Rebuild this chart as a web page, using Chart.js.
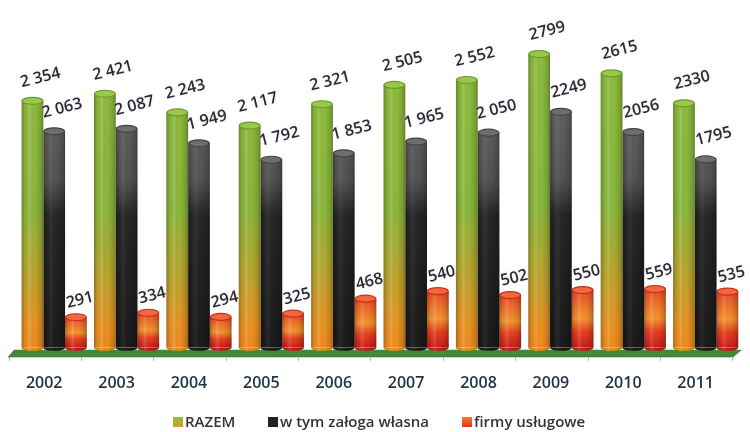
<!DOCTYPE html>
<html><head><meta charset="utf-8">
<script src="https://cdn.jsdelivr.net/npm/chart.js@4.4.1/dist/chart.umd.min.js"></script>
<style>html,body{margin:0;padding:0;background:#fff;}#wrap{width:750px;height:432px;position:relative;}</style>
</head><body><div id="wrap"><canvas id="c" width="750" height="432"></canvas></div>
<script>
const years = ['2002','2003','2004','2005','2006','2007','2008','2009','2010','2011'];
const razem = [2354, 2421, 2243, 2117, 2321, 2505, 2552, 2799, 2615, 2330];
const zaloga = [2063, 2087, 1949, 1792, 1853, 1965, 2050, 2249, 2056, 1795];
const firmy = [291, 334, 294, 325, 468, 540, 502, 550, 559, 535];
const seriesNames = ['RAZEM', 'w tym załoga własna', 'firmy usługowe'];
const groupedThousands = [true, true, true, true, true, true, true, false, false, false];

const FONT = "'Open Sans', 'Liberation Sans', sans-serif";

function greenFill(c) {
  const ch = c.chart, a = ch.chartArea;
  if (!a) return '#8cb83c';
  const g = ch.ctx.createLinearGradient(0, a.top, 0, a.bottom);
  g.addColorStop(0, '#8fbe3e'); g.addColorStop(0.56, '#8bb83b');
  g.addColorStop(0.78, '#bea52d'); g.addColorStop(0.93, '#eb9321'); g.addColorStop(1, '#f08a1e');
  return g;
}
function blackFill(c) {
  const ch = c.chart, a = ch.chartArea;
  if (!a) return '#333';
  const g = ch.ctx.createLinearGradient(0, a.top, 0, a.bottom);
  g.addColorStop(0, '#6a6a6a'); g.addColorStop(0.22, '#626262'); g.addColorStop(0.47, '#525252');
  g.addColorStop(0.58, '#262626'); g.addColorStop(1, '#1a1a1a');
  return g;
}
function redFill(c) {
  const ch = c.chart;
  if (!ch.chartArea || c.type !== 'data') return '#f06a2a';
  const ys = ch.scales.y;
  const top = ys.getPixelForValue(c.parsed.y), bot = ys.getPixelForValue(0);
  const g = ch.ctx.createLinearGradient(0, top, 0, bot);
  g.addColorStop(0, '#ea4a2c'); g.addColorStop(0.3, '#f27a2a'); g.addColorStop(0.5, '#f5952f');
  g.addColorStop(0.72, '#e8401f'); g.addColorStop(1, '#cc1c18');
  return g;
}

const caps = [
  {fill: '#98c948', rim: '#6b9a2c', bottom: '#ef8b1f', hi: 0.14},
  {fill: '#6e6e6e', rim: '#444444', bottom: '#1a1a1a', hi: 0.06},
  {fill: '#f2683e', rim: '#c8301c', bottom: '#c41a18', hi: 0.14}
];

function fmt(v, i) {
  if (v >= 1000 && groupedThousands[i]) return Math.floor(v / 1000) + ' ' + String(v % 1000).padStart(3, '0');
  return String(v);
}

const floorPlugin = {
  id: 'floor',
  beforeDatasetsDraw(chart) {
    const a = chart.chartArea, ctx = chart.ctx;
    const yTop = a.bottom + 2, yBot = a.bottom + 9;
    ctx.save();
    ctx.beginPath();
    ctx.moveTo(a.left - 4, yTop); ctx.lineTo(a.right, yTop);
    ctx.lineTo(a.right - 8, yBot); ctx.lineTo(a.left - 10, yBot); ctx.closePath();
    ctx.fillStyle = '#3f8b33'; ctx.fill();
    ctx.strokeStyle = '#2f7028'; ctx.lineWidth = 1;
    ctx.beginPath(); ctx.moveTo(a.left - 10, yBot); ctx.lineTo(a.right - 8, yBot); ctx.stroke();
    const n = chart.data.labels.length, w = a.width / n;
    ctx.strokeStyle = '#8fb2d6';
    for (let i = 0; i <= n; i++) {
      const x = Math.round(a.left - 9.5 + i * w) + 0.5;
      ctx.beginPath(); ctx.moveTo(x, yBot + 1); ctx.lineTo(x, yBot + 4); ctx.stroke();
    }
    ctx.restore();
  }
};

const cylinderPlugin = {
  id: 'cylinder',
  afterDatasetDraw(chart, args) {
    const ctx = chart.ctx, cap = caps[args.index];
    ctx.save();
    args.meta.data.forEach(el => {
      const p = el.getProps(['x', 'y', 'base', 'width'], true);
      const l = p.x - p.width / 2, rx = p.width / 2;
      ctx.beginPath(); ctx.ellipse(p.x, p.base, rx, 3, 0, 0, Math.PI);
      ctx.fillStyle = cap.bottom; ctx.fill();
      const g = ctx.createLinearGradient(l, 0, l + p.width, 0);
      g.addColorStop(0, 'rgba(0,0,0,0.28)'); g.addColorStop(0.15, 'rgba(0,0,0,0.06)');
      g.addColorStop(0.35, 'rgba(255,255,255,' + cap.hi + ')'); g.addColorStop(0.6, 'rgba(0,0,0,0)');
      g.addColorStop(0.88, 'rgba(0,0,0,0.14)'); g.addColorStop(1, 'rgba(0,0,0,0.32)');
      ctx.fillStyle = g;
      ctx.beginPath(); ctx.rect(l, p.y, p.width, p.base - p.y);
      ctx.ellipse(p.x, p.base, rx, 3, 0, 0, Math.PI);
      ctx.fill();
      ctx.beginPath(); ctx.ellipse(p.x, p.y, rx - 0.5, 3.5, 0, 0, Math.PI * 2);
      ctx.fillStyle = cap.fill; ctx.fill();
      ctx.strokeStyle = cap.rim; ctx.lineWidth = 1.2; ctx.stroke();
    });
    ctx.restore();
  }
};

const labelPlugin = {
  id: 'valueLabels',
  afterDatasetsDraw(chart) {
    const ctx = chart.ctx;
    ctx.save();
    ctx.font = '600 16px ' + FONT;
    ctx.fillStyle = '#1d2c3d';
    ctx.textAlign = 'center'; ctx.textBaseline = 'middle';
    chart.data.datasets.forEach((ds, di) => {
      const meta = chart.getDatasetMeta(di);
      const off = di === 2 ? [4, -17] : [8, -23];
      meta.data.forEach((el, i) => {
        const p = el.getProps(['x', 'y'], true);
        ctx.save();
        ctx.translate(p.x + off[0], p.y + off[1]);
        ctx.rotate(-14 * Math.PI / 180);
        ctx.shadowColor = 'rgba(255,215,205,0.9)'; ctx.shadowBlur = 3;
        ctx.fillText(fmt(ds.data[i], i), 0, 0);
        ctx.restore();
      });
    });
    ctx.restore();
  }
};

const legendPlugin = {
  id: 'manualLegend',
  afterDraw(chart) {
    const ctx = chart.ctx;
    const xs = [173, 268, 462], yc = 422;
    const boxFills = [
      (() => { const g = ctx.createLinearGradient(0, yc - 5, 0, yc + 5); g.addColorStop(0, '#8cbf40'); g.addColorStop(1, '#e0962a'); return g; })(),
      '#222222',
      (() => { const g = ctx.createLinearGradient(0, yc - 5, 0, yc + 5); g.addColorStop(0, '#f07a30'); g.addColorStop(1, '#e03a1e'); return g; })()
    ];
    ctx.save();
    ctx.font = '600 15px ' + FONT;
    ctx.textBaseline = 'middle'; ctx.textAlign = 'left';
    chart.data.datasets.forEach((ds, i) => {
      ctx.fillStyle = boxFills[i];
      ctx.fillRect(xs[i], yc - 5, 10, 10);
      ctx.fillStyle = '#333333';
      ctx.fillText(ds.label, xs[i] + 12, yc + 1);
    });
    ctx.restore();
  }
};

new Chart(document.getElementById('c'), {
  type: 'bar',
  data: {
    labels: years,
    datasets: [
      {label: seriesNames[0], data: razem, backgroundColor: greenFill, borderWidth: 0},
      {label: seriesNames[1], data: zaloga, backgroundColor: blackFill, borderWidth: 0},
      {label: seriesNames[2], data: firmy, backgroundColor: redFill, borderWidth: 0}
    ]
  },
  options: {
    responsive: false,
    animation: false,
    devicePixelRatio: 1,
    layout: {padding: {left: 18, right: 1, top: 33, bottom: 13}},
    datasets: {bar: {categoryPercentage: 0.9, barPercentage: 1.0}},
    plugins: {legend: {display: false}, tooltip: {enabled: false}},
    scales: {
      x: {
        grid: {display: false, drawTicks: false},
        border: {display: false},
        ticks: {padding: 26, labelOffset: -10, color: '#1f3246', font: {family: FONT, size: 16, weight: '600'}}
      },
      y: {display: false, min: 0, max: 3000}
    }
  },
  plugins: [floorPlugin, cylinderPlugin, labelPlugin, legendPlugin]
});
</script></body></html>
